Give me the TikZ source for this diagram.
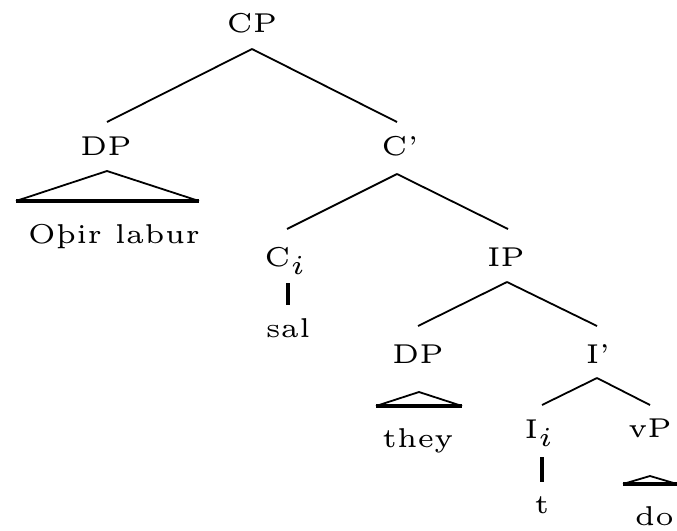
\documentclass[tikz,border=0pt]{standalone}
\usetikzlibrary{calc}
\begin{document}
\begin{tikzpicture}[x=1pt,y=-1pt,
  lab/.style={anchor=base,inner sep=0pt,scale=5.45,font=\fontsize{5}{6}\selectfont},
  branchline/.style={line width=1.8pt},
  heavyline/.style={line width=3.8pt}]
\useasboundingbox (0,0) rectangle (677,530);

% labels, placed on their baselines
\node[lab] (CP)   at (252,32)  {CP};
\node[lab] (DPa)  at (106,155) {DP};
\node[lab] (Cbar) at (400,155) {C'};
\node[lab] (OL)   at (114,243) {Oþir labur};
\node[lab] (Ci)   at (286,266) {C$_i$};
\node[lab] (IP)   at (506,266) {IP};
\node[lab] (sal)  at (288,337) {sal};
\node[lab] (DPb)  at (418,363) {DP};
\node[lab] (Ibar) at (598,363) {I'};
\node[lab] (they) at (418,447) {they};
\node[lab] (Ii)   at (540,438) {I$_i$};
\node[lab] (vP)   at (650,437) {vP};
\node[lab] (t)    at (542,513) {t};
\node[lab,anchor=base east] (do) at (675,525) {do};

% binary branches
\draw[branchline] ($(CP.base)+(0,17)$) -- ($(DPa.base)+(1,-33)$);
\draw[branchline] ($(CP.base)+(0,17)$) -- ($(Cbar.base)+(-3,-33)$);
\draw[branchline] ($(Cbar.base)+(-3,19)$) -- ($(Ci.base)+(1,-37)$);
\draw[branchline] ($(Cbar.base)+(-3,19)$) -- ($(IP.base)+(2,-37)$);
\draw[branchline] ($(IP.base)+(1,16)$) -- ($(DPb.base)+(0,-37)$);
\draw[branchline] ($(IP.base)+(1,16)$) -- ($(Ibar.base)+(-1,-37)$);
\draw[branchline] ($(Ibar.base)+(-1,15)$) -- ($(Ii.base)+(2,-33)$);
\draw[branchline] ($(Ibar.base)+(-1,15)$) -- ($(vP.base)+(0,-32)$);

% unary branches to heads
\draw[heavyline] ($(Ci.base)+(2,17)$) -- ($(sal.base)+(0,-32)$);
\draw[heavyline] ($(Ii.base)+(2,19)$) -- ($(t.base)+(0,-31)$);

% roofs over phrases
\draw[branchline,line join=miter] ($(DPa.base)+(-90,46)$) -- ($(DPa.base)+(1,16)$) -- ($(DPa.base)+(93,46)$);
\draw[heavyline] ($(DPa.base)+(-90,46)$) -- ($(DPa.base)+(93,46)$);
\draw[branchline] ($(DPb.base)+(-42,43)$) -- ($(DPb.base)+(1,29)$) -- ($(DPb.base)+(44,43)$);
\draw[heavyline] ($(DPb.base)+(-42,43)$) -- ($(DPb.base)+(44,43)$);
\draw[branchline] ($(vP.base)+(-27,47)$) -- ($(vP.base)+(0,39)$) -- ($(vP.base)+(27,47)$);
\draw[heavyline] ($(vP.base)+(-27,47)$) -- ($(vP.base)+(27,47)$);
\end{tikzpicture}
\end{document}
